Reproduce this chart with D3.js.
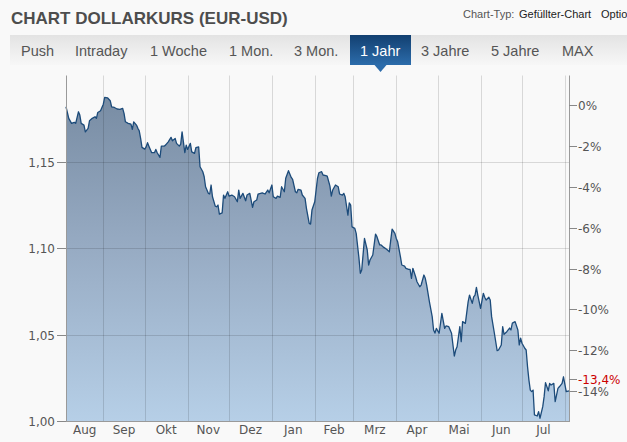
<!DOCTYPE html>
<html>
<head>
<meta charset="utf-8">
<script src="https://cdn.jsdelivr.net/npm/d3@7"></script>
<style>
  html, body { margin: 0; padding: 0; background: #f9f9f9; }
  svg { display: block; }
</style>
</head>
<body>
<div id="chart"></div>
<script>
// ---------- DATA ----------
const title = "CHART DOLLARKURS (EUR-USD)";
const tabs = ["Push", "Intraday", "1 Woche", "1 Mon.", "3 Mon.", "1 Jahr", "3 Jahre", "5 Jahre", "MAX"];
const activeTab = "1 Jahr";
const monthLabels = ["Aug", "Sep", "Okt", "Nov", "Dez", "Jan", "Feb", "Mrz", "Apr", "Mai", "Jun", "Jul"];
const priceTicks = [1.00, 1.05, 1.10, 1.15];
const percentTicks = [0, -2, -4, -6, -8, -10, -12, -14];
const basePrice = 1.1829;
const lastChange = -13.4;
const startDate = "2021-08-05";
const endDate = "2022-08-04";
const dayOffsets = [0,2,4,6,7,9,10,11,13,14,16,17,19,21,22,23,25,27,28,30,32,33,35,37,39,41,42,43,45,47,
48,49,51,52,53,54,55,57,58,59,60,62,64,65,66,68,69,71,72,74,76,77,79,80,82,83,84,86,87,88,
90,91,93,94,96,97,99,100,101,103,104,105,106,108,109,110,111,113,114,115,117,118,120,122,124,125,126,128,130,131,
133,135,136,138,139,142,144,146,147,149,150,152,153,155,156,158,159,161,163,164,166,167,168,170,171,173,174,176,177,178,
180,182,183,185,186,188,189,191,192,193,195,197,198,200,201,202,204,205,206,207,209,210,212,213,214,216,218,219,220,222,
224,225,227,228,230,232,234,235,236,238,239,240,242,243,245,246,248,249,250,251,253,254,256,257,259,260,261,263,265,266,
267,268,270,272,274,275,277,279,281,282,283,285,286,287,289,291,292,294,295,296,297,298,300,302,303,304,306,307,308,310,
312,313,315,316,317,319,321,322,323,325,327,328,329,330,332,333,334,335,336,337,338,339,341,342,343,345,346,347,349,350,
351,353,354,356,357,359,360,362,364];
const prices = [1.1819,1.1752,1.1723,1.1729,1.1723,1.1790,1.1771,1.1723,1.1713,1.1674,1.1694,1.1738,1.1752,1.1761,1.1752,1.1786,1.1796,1.1834,1.1873,1.1871,
1.1854,1.1819,1.1815,1.1806,1.1804,1.1810,1.1781,1.1732,1.1723,1.1719,1.1688,1.1732,1.1713,1.1694,1.1680,1.1636,1.1584,1.1574,1.1587,1.1611,
1.1591,1.1553,1.1553,1.1572,1.1553,1.1526,1.1591,1.1591,1.1597,1.1616,1.1642,1.1622,1.1636,1.1607,1.1591,1.1603,1.1674,1.1553,1.1597,1.1572,
1.1607,1.1558,1.1549,1.1582,1.1587,1.1472,1.1443,1.1414,1.1356,1.1318,1.1314,1.1366,1.1298,1.1244,1.1240,1.1250,1.1198,1.1205,1.1308,1.1289,
1.1327,1.1302,1.1308,1.1298,1.1269,1.1337,1.1289,1.1318,1.1275,1.1308,1.1318,1.1237,1.1269,1.1279,1.1314,1.1321,1.1314,1.1337,1.1321,1.1366,
1.1298,1.1289,1.1302,1.1295,1.1356,1.1327,1.1405,1.1449,1.1410,1.1399,1.1327,1.1321,1.1341,1.1337,1.1308,1.1289,1.1231,1.1144,1.1140,1.1221,
1.1269,1.1405,1.1437,1.1443,1.1424,1.1421,1.1418,1.1360,1.1302,1.1337,1.1366,1.1356,1.1314,1.1308,1.1318,1.1298,1.1192,1.1263,1.1250,1.1124,
1.1115,1.1086,1.0943,1.0855,1.0874,1.1057,1.0990,1.0903,1.0932,1.0961,1.1082,1.1067,1.1019,1.1019,1.1005,1.0994,1.0980,1.1047,1.1111,1.1086,
1.1057,1.1038,1.0951,1.0903,1.0897,1.0884,1.0878,1.0878,1.0826,1.0884,1.0835,1.0806,1.0777,1.0787,1.0845,1.0826,1.0787,1.0690,1.0604,1.0527,
1.0509,1.0536,1.0508,1.0623,1.0536,1.0550,1.0546,1.0508,1.0376,1.0411,1.0430,1.0546,1.0459,1.0575,1.0565,1.0690,1.0729,1.0681,1.0719,1.0729,
1.0774,1.0729,1.0652,1.0739,1.0716,1.0700,1.0716,1.0700,1.0604,1.0508,1.0407,1.0411,1.0440,1.0546,1.0502,1.0517,1.0538,1.0527,1.0567,1.0575,
1.0527,1.0440,1.0479,1.0450,1.0421,1.0411,1.0314,1.0237,1.0179,1.0170,1.0179,1.0035,1.0029,1.0054,1.0016,1.0083,1.0141,1.0222,1.0175,1.0218,
1.0208,1.0218,1.0112,1.0189,1.0198,1.0218,1.0256,1.0170,1.0175];

// ---------- SETUP ----------
const W = 627, H = 442;
const plot = { left: 66, right: 569, top: 75.5, bottom: 421 };
const axisFont = "'DejaVu Sans', Verdana, sans-serif";
const uiFont = "'Liberation Sans', Arial, sans-serif";

const parse = d3.utcParse("%Y-%m-%d");
const t0 = parse(startDate), t1 = parse(endDate);
const data = d3.zip(dayOffsets, prices).map(([o, v]) => ({ date: d3.utcDay.offset(t0, o), value: v }));

const x = d3.scaleUtc().domain([t0, t1]).range([plot.left, plot.right]);
const y = d3.scaleLinear().domain([1.00, 1.20]).range([plot.bottom, plot.top]);

const svg = d3.select("#chart").append("svg").attr("width", W).attr("height", H);

svg.append("rect").attr("width", W).attr("height", H).attr("fill", "#f9f9f9");

const defs = svg.append("defs");
const areaGrad = defs.append("linearGradient").attr("id", "areaGrad")
  .attr("gradientUnits", "userSpaceOnUse").attr("x1", 0).attr("x2", 0)
  .attr("y1", plot.top).attr("y2", plot.bottom);
areaGrad.append("stop").attr("offset", "0%").attr("stop-color", "#74889f");
areaGrad.append("stop").attr("offset", "50%").attr("stop-color", "#97abc3");
areaGrad.append("stop").attr("offset", "100%").attr("stop-color", "#b6cfe7");

const barGrad = defs.append("linearGradient").attr("id", "barGrad")
  .attr("x1", 0).attr("x2", 0).attr("y1", 0).attr("y2", 1);
barGrad.append("stop").attr("offset", "0%").attr("stop-color", "#e3e3e3");
barGrad.append("stop").attr("offset", "100%").attr("stop-color", "#f7f7f7");

const tabGrad = defs.append("linearGradient").attr("id", "tabGrad")
  .attr("x1", 0).attr("x2", 0).attr("y1", 0).attr("y2", 1);
tabGrad.append("stop").attr("offset", "0%").attr("stop-color", "#123f70");
tabGrad.append("stop").attr("offset", "100%").attr("stop-color", "#2c6cab");

// ---------- HEADER ----------
svg.append("text").attr("x", 11).attr("y", 24)
  .attr("font-family", uiFont).attr("font-weight", "bold").attr("font-size", 17)
  .attr("fill", "#4d4d4d").text(title);

const hdr = svg.append("text").attr("x", 463).attr("y", 18)
  .attr("font-family", uiFont).attr("font-size", 11);
hdr.append("tspan").attr("fill", "#555").text("Chart-Typ: ");
hdr.append("tspan").attr("fill", "#222").attr("x", 519).text("Gefüllter-Chart");
hdr.append("tspan").attr("fill", "#222").attr("x", 601).text("Optionen");

// tab bar
svg.append("rect").attr("x", 10).attr("y", 35).attr("width", W - 10).attr("height", 30)
  .attr("fill", "url(#barGrad)");

const tabStarts = [21, 75, 150, 229, 294, 360, 421, 491, 562];
const tabG = svg.append("g");
tabs.forEach((t, i) => {
  if (t === activeTab) {
    tabG.append("rect").attr("x", tabStarts[i] - 10).attr("y", 35).attr("width", 61).attr("height", 30)
      .attr("fill", "url(#tabGrad)");
    const cx = tabStarts[i] - 10 + 30.5;
    tabG.append("path").attr("d", `M${cx - 6},65 L${cx + 6},65 L${cx},72 Z`).attr("fill", "#2c6cab");
  }
  tabG.append("text").attr("x", tabStarts[i]).attr("y", 56)
    .attr("font-family", uiFont).attr("font-size", 14.5)
    .attr("fill", t === activeTab ? "#ffffff" : "#555")
    .text(t);
});

// ---------- PLOT ----------
const area = d3.area().x(d => x(d.date)).y0(plot.bottom).y1(d => y(d.value)).curve(d3.curveLinear);
const line = d3.line().x(d => x(d.date)).y(d => y(d.value)).curve(d3.curveLinear);

svg.append("path").datum(data).attr("d", area).attr("fill", "url(#areaGrad)");

// gridlines (drawn over fill, semi-transparent)
const monthStarts = d3.utcMonth.range(d3.utcMonth.ceil(t0), t1);
svg.append("g").selectAll("line").data(monthStarts).join("line")
  .attr("x1", d => Math.round(x(d)) + 0.5).attr("x2", d => Math.round(x(d)) + 0.5)
  .attr("y1", plot.top).attr("y2", plot.bottom)
  .attr("stroke", "rgba(0,0,0,0.13)").attr("stroke-width", 1);
svg.append("g").selectAll("line").data(priceTicks.filter(v => v > 1.0)).join("line")
  .attr("x1", plot.left).attr("x2", plot.right)
  .attr("y1", d => Math.round(y(d)) + 0.5).attr("y2", d => Math.round(y(d)) + 0.5)
  .attr("stroke", "rgba(0,0,0,0.13)").attr("stroke-width", 1);

svg.append("path").datum(data).attr("d", line)
  .attr("fill", "none").attr("stroke", "#1c4b7a").attr("stroke-width", 1.3)
  .attr("stroke-linejoin", "round");

// axes lines
const axisColor = "#9a9a9a";
svg.append("line").attr("x1", plot.left + 0.5).attr("x2", plot.left + 0.5)
  .attr("y1", plot.top).attr("y2", plot.bottom).attr("stroke", axisColor);
svg.append("line").attr("x1", plot.right + 0.5).attr("x2", plot.right + 0.5)
  .attr("y1", plot.top).attr("y2", plot.bottom + 0.5).attr("stroke", axisColor);
svg.append("line").attr("x1", plot.left).attr("x2", plot.right + 1)
  .attr("y1", plot.bottom + 0.5).attr("y2", plot.bottom + 0.5).attr("stroke", axisColor);

// left axis ticks & labels
const fmtPrice = v => d3.format(".2f")(v).replace(".", ",");
const leftG = svg.append("g");
priceTicks.forEach(v => {
  const yy = Math.round(y(v)) + 0.5;
  leftG.append("line").attr("x1", 57).attr("x2", plot.left).attr("y1", yy).attr("y2", yy).attr("stroke", "#888");
  leftG.append("text").attr("x", 55).attr("y", yy).attr("dy", "0.36em").attr("text-anchor", "end")
    .attr("font-family", axisFont).attr("font-size", 12).attr("fill", "#555").text(fmtPrice(v));
});

// right axis (percent change vs base price)
const pctY = p => y(basePrice * (1 + p / 100));
const rightG = svg.append("g");
percentTicks.forEach(p => {
  const yy = Math.round(pctY(p)) + 0.5;
  rightG.append("line").attr("x1", plot.right).attr("x2", plot.right + 8).attr("y1", yy).attr("y2", yy).attr("stroke", "#888");
  rightG.append("text").attr("x", plot.right + 9).attr("y", yy).attr("dy", "0.36em")
    .attr("font-family", axisFont).attr("font-size", 12).attr("fill", "#555")
    .text(p + "%");
});
{
  const yy = Math.round(pctY(lastChange)) + 0.5;
  rightG.append("line").attr("x1", plot.right).attr("x2", plot.right + 8).attr("y1", yy).attr("y2", yy).attr("stroke", "#888");
  rightG.append("text").attr("x", plot.right + 9).attr("y", yy).attr("dy", "0.36em")
    .attr("font-family", axisFont).attr("font-size", 12).attr("fill", "#cc0000")
    .text(String(lastChange).replace(".", ",") + "%");
}

// month labels centred within each month span
const monthBounds = [t0, ...monthStarts, t1];
const bottomG = svg.append("g");
monthLabels.forEach((m, i) => {
  const a = x(monthBounds[i]), b = x(monthBounds[i + 1]);
  bottomG.append("text").attr("x", (a + b) / 2).attr("y", 434).attr("text-anchor", "middle")
    .attr("font-family", axisFont).attr("font-size", 12).attr("fill", "#555").text(m);
});
</script>
</body>
</html>
